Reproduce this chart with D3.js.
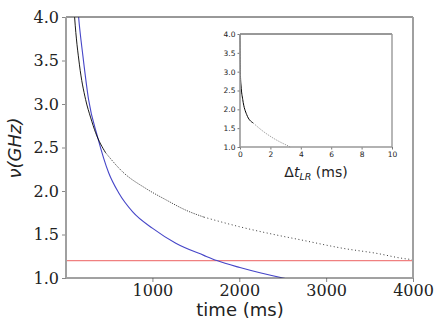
<!DOCTYPE html>
<html>
<head>
<meta charset="utf-8">
<script src="https://cdn.jsdelivr.net/npm/d3@7"></script>
<style>
  body { margin: 0; background: #fff; }
  svg { display: block; }
</style>
</head>
<body>
<div id="grafico"></div>
<script>
// datos
var blackTime = [85, 104, 160, 231, 290, 346, 461, 657, 923, 1153, 1384, 1592, 2000, 2400, 2700, 3200, 3600, 3852, 4000];
var blackFreq = [4.3, 4.0, 3.45, 3.05, 2.84, 2.67, 2.44, 2.22, 2.03, 1.90, 1.78, 1.70, 1.59, 1.50, 1.44, 1.34, 1.28, 1.23, 1.21];

var blueTime = [130, 150, 200, 265, 369, 496, 611, 773, 1003, 1269, 1592, 1742, 2007, 2238, 2503, 2700];
var blueFreq = [4.25, 4.0, 3.55, 3.05, 2.62, 2.21, 1.98, 1.76, 1.57, 1.40, 1.26, 1.20, 1.12, 1.06, 1.0, 0.96];

var umbral = 1.2;

var insetDt = [0.0, 0.03, 0.07, 0.18, 0.44, 0.86, 1.51, 2.17, 2.7, 3.16, 3.3];
var insetFreq = [4.0, 2.9, 2.62, 2.26, 1.86, 1.64, 1.42, 1.24, 1.12, 1.03, 1.0];

var xTicks = [1000, 2000, 3000, 4000];
var yTicks = [1.0, 1.5, 2.0, 2.5, 3.0, 3.5, 4.0];
var insetXTicks = [0, 2, 4, 6, 8, 10];

var width = 436, height = 327;

var svg = d3.select("#grafico").append("svg")
  .attr("width", width)
  .attr("height", height);

// escalas principales
var x = d3.scaleLinear().domain([5, 4000]).range([66, 413]);
var y = d3.scaleLinear().domain([1.0, 4.0]).range([278, 17]);

svg.append("clipPath").attr("id", "clipMain")
  .append("rect").attr("x", 66).attr("y", 17).attr("width", 347).attr("height", 261);

function toPts(xs, ys) {
  return xs.map(function(d, i) { return [d, ys[i]]; });
}

var line = d3.line()
  .x(function(d) { return x(d[0]); })
  .y(function(d) { return y(d[1]); })
  .curve(d3.curveMonotoneX);

var plot = svg.append("g").attr("clip-path", "url(#clipMain)");

// linea roja horizontal
plot.append("line")
  .attr("x1", x.range()[0]).attr("x2", x.range()[1])
  .attr("y1", y(umbral)).attr("y2", y(umbral))
  .attr("stroke", "#f08080").attr("stroke-width", 1.1);

// curva azul
plot.append("path")
  .datum(toPts(blueTime, blueFreq))
  .attr("d", line)
  .attr("fill", "none")
  .attr("stroke", "#4646c8")
  .attr("stroke-width", 1.1);

// curva negra: solida al principio, punteada despues
var blackPts = toPts(blackTime, blackFreq);
var tramos = [
  { desde: 0, hasta: 461, color: "#000", ancho: 0.9, dash: null },
  { desde: 461, hasta: 1592, color: "#333", ancho: 0.9, dash: "1.2,1.2" },
  { desde: 1592, hasta: 5000, color: "#222", ancho: 0.9, dash: "1,2.6" }
];
tramos.forEach(function(t) {
  plot.append("path")
    .datum(blackPts.filter(function(d) { return d[0] >= t.desde && d[0] <= t.hasta; }))
    .attr("d", line)
    .attr("fill", "none")
    .attr("stroke", t.color)
    .attr("stroke-width", t.ancho)
    .attr("stroke-dasharray", t.dash);
});

// ejes
var xAxis = svg.append("g")
  .attr("transform", "translate(0,278)")
  .call(d3.axisBottom(x).tickValues(xTicks).tickFormat(d3.format("d")).tickSize(4).tickPadding(3));
var yAxis = svg.append("g")
  .attr("transform", "translate(66,0)")
  .call(d3.axisLeft(y).tickValues(yTicks).tickFormat(d3.format(".1f")).tickSize(4).tickPadding(3));

[xAxis, yAxis].forEach(function(a) {
  a.select(".domain").remove();
  a.selectAll(".tick line").attr("stroke", "#888");
  a.selectAll(".tick text")
    .attr("font-family", "DejaVu Serif")
    .attr("font-size", 16)
    .attr("fill", "#222");
});

// marco (spines)
svg.append("line").attr("x1", 66).attr("x2", 413).attr("y1", 17).attr("y2", 17).attr("stroke", "#333").attr("stroke-width", 1);
svg.append("line").attr("x1", 66).attr("x2", 413).attr("y1", 278).attr("y2", 278).attr("stroke", "#444").attr("stroke-width", 1);
svg.append("line").attr("x1", 66).attr("x2", 66).attr("y1", 17).attr("y2", 278).attr("stroke", "#a0a0a0").attr("stroke-width", 2);
svg.append("line").attr("x1", 413).attr("x2", 413).attr("y1", 17).attr("y2", 278).attr("stroke", "#a0a0a0").attr("stroke-width", 2);

// etiquetas
svg.append("text")
  .attr("x", 240).attr("y", 316)
  .attr("text-anchor", "middle")
  .attr("font-family", "DejaVu Sans")
  .attr("font-size", 18)
  .attr("fill", "#222")
  .text("time (ms)");

svg.append("text")
  .attr("transform", "translate(21,148) rotate(-90)")
  .attr("text-anchor", "middle")
  .attr("font-family", "DejaVu Sans")
  .attr("font-style", "italic")
  .attr("font-size", 18)
  .attr("fill", "#222")
  .text("ν(GHz)");

// ----- grafico insertado -----
var xi = d3.scaleLinear().domain([0, 10]).range([240, 392]);
var yi = d3.scaleLinear().domain([1.0, 4.0]).range([147, 34]);

var inset = svg.append("g");
inset.append("rect")
  .attr("x", 240).attr("y", 34).attr("width", 152).attr("height", 113)
  .attr("fill", "#fff");

var lineIn = d3.line()
  .x(function(d) { return xi(d[0]); })
  .y(function(d) { return yi(d[1]); })
  .curve(d3.curveMonotoneX);

var inPts = toPts(insetDt, insetFreq);
inset.append("path")
  .datum(inPts.filter(function(d) { return d[0] <= 0.86; }))
  .attr("d", lineIn)
  .attr("fill", "none")
  .attr("stroke", "#000")
  .attr("stroke-width", 1);
inset.append("path")
  .datum(inPts.filter(function(d) { return d[0] >= 0.86; }))
  .attr("d", lineIn)
  .attr("fill", "none")
  .attr("stroke", "#777")
  .attr("stroke-width", 0.8)
  .attr("stroke-dasharray", "1.2,1.2");

var xiAxis = inset.append("g")
  .attr("transform", "translate(0,147)")
  .call(d3.axisBottom(xi).tickValues(insetXTicks).tickFormat(d3.format("d")).tickSize(2.5).tickPadding(2));
var yiAxis = inset.append("g")
  .attr("transform", "translate(240,0)")
  .call(d3.axisLeft(yi).tickValues(yTicks).tickFormat(d3.format(".1f")).tickSize(2.5).tickPadding(2));

[xiAxis, yiAxis].forEach(function(a) {
  a.select(".domain").remove();
  a.selectAll(".tick line").attr("stroke", "#777");
  a.selectAll(".tick text")
    .attr("font-family", "DejaVu Sans")
    .attr("font-size", 7.5)
    .attr("fill", "#222");
});

inset.append("line").attr("x1", 240).attr("x2", 392).attr("y1", 34).attr("y2", 34).attr("stroke", "#333").attr("stroke-width", 1);
inset.append("line").attr("x1", 240).attr("x2", 392).attr("y1", 147).attr("y2", 147).attr("stroke", "#999").attr("stroke-width", 1.6);
inset.append("line").attr("x1", 240).attr("x2", 240).attr("y1", 34).attr("y2", 147).attr("stroke", "#999").attr("stroke-width", 1.6);
inset.append("line").attr("x1", 392).attr("x2", 392).attr("y1", 34).attr("y2", 147).attr("stroke", "#999").attr("stroke-width", 1.4);

var lbl = inset.append("text")
  .attr("x", 316).attr("y", 177)
  .attr("text-anchor", "middle")
  .attr("font-family", "DejaVu Sans")
  .attr("font-size", 14)
  .attr("fill", "#222");
lbl.append("tspan").text("Δ");
lbl.append("tspan").attr("font-style", "italic").text("t");
lbl.append("tspan").attr("font-style", "italic").attr("font-size", 9.5).attr("dy", 3).text("LR");
lbl.append("tspan").attr("dy", -3).text(" (ms)");
</script>
</body>
</html>
